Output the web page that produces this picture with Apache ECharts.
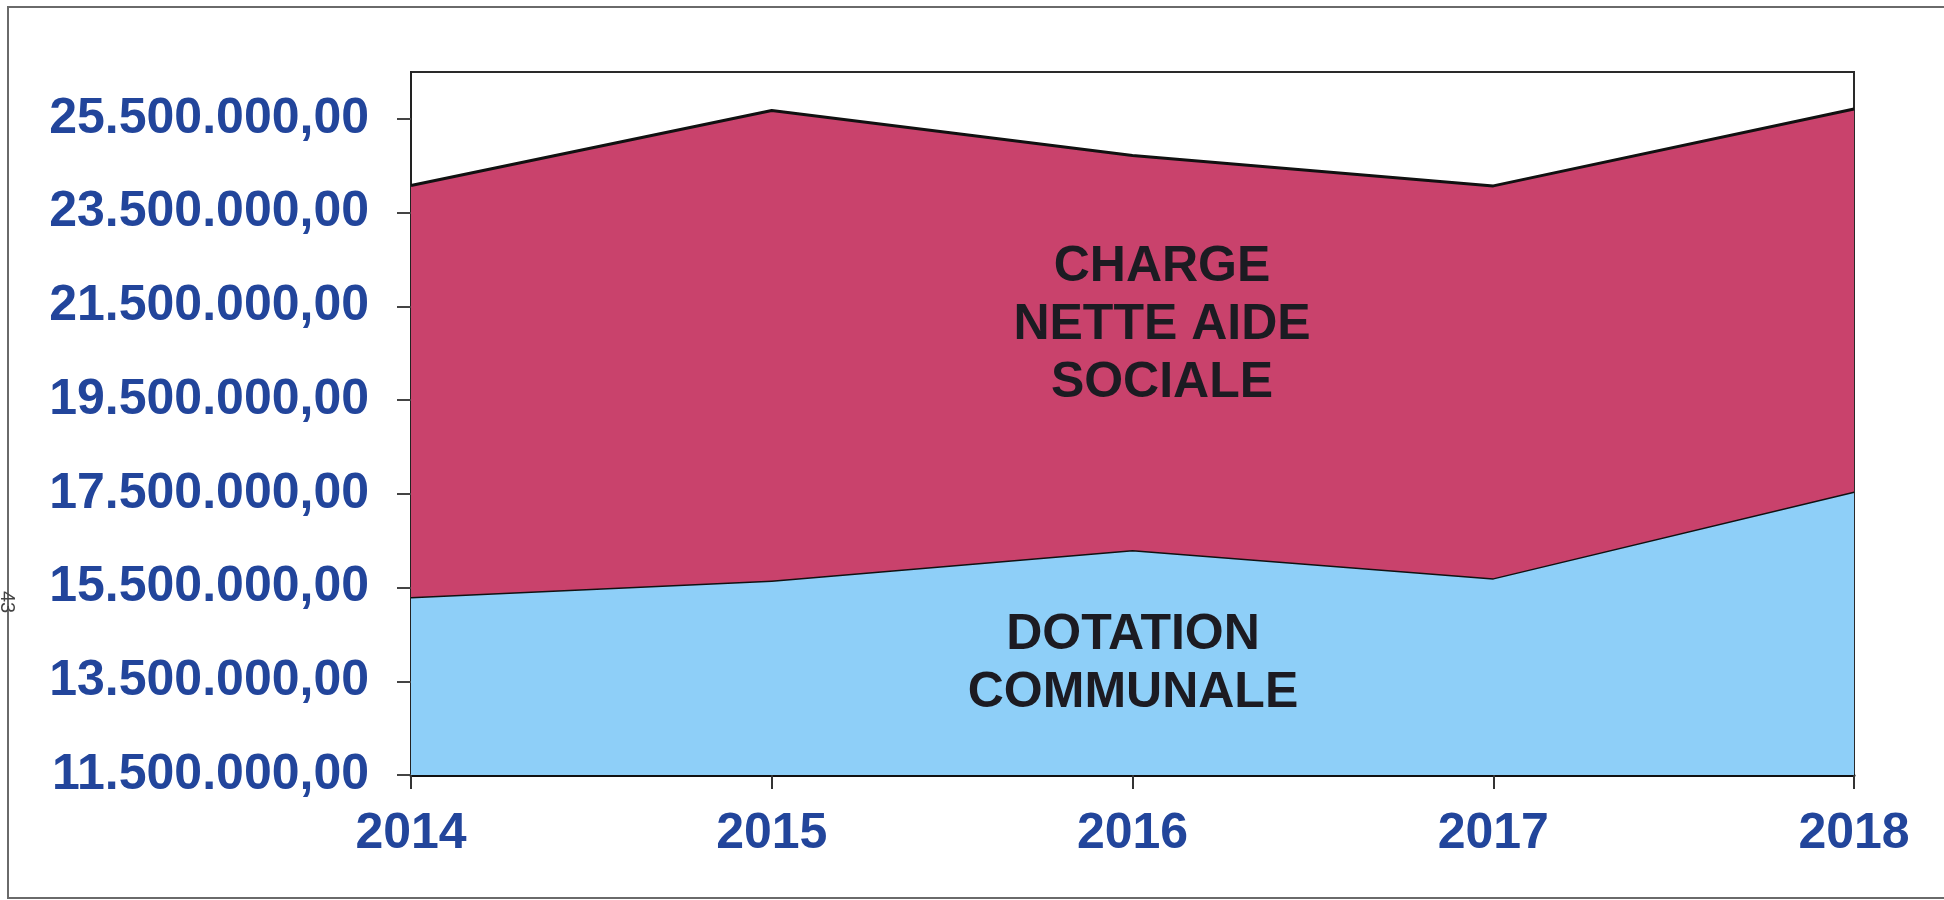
<!DOCTYPE html>
<html>
<head>
<meta charset="utf-8">
<title>Dotation communale / Charge nette aide sociale</title>
<script src="https://cdn.jsdelivr.net/npm/echarts@6/dist/echarts.min.js"></script>
<style>
  html, body { margin: 0; padding: 0; background: #fff; }
  #main { width: 1944px; height: 900px; }
</style>
</head>
<body>
<div id="main"></div>
<script>
// years on the x axis
const years = ['2014', '2015', '2016', '2017', '2018'];
// lower band: dotation communale (EUR)
const dotation = [15300000, 15650000, 16300000, 15700000, 17550000];
// upper band stacked on top: charge nette aide sociale (total - dotation)
const chargeNette = [8780000, 10030000, 8420000, 8370000, 8160000];
// y tick values shown on the axis
const yTicks = [11500000, 13500000, 15500000, 17500000, 19500000, 21500000, 23500000, 25500000];

function euro (v) {
  // 25500000 -> "25.500.000,00"
  const s = Math.round(v).toString().replace(/\B(?=(\d{3})+(?!\d))/g, '.');
  return s + ',00';
}

const blueText = '#22459b';
const font = "'Liberation Sans', Arial, sans-serif";

const chart = echarts.init(document.getElementById('main'));
chart.setOption({
  animation: false,
  grid: {
    left: 411,
    right: 90,
    top: 72,
    bottom: 125,
    show: true,
    borderColor: '#2a2a2a',
    borderWidth: 2,
    backgroundColor: 'transparent'
  },
  xAxis: {
    type: 'category',
    data: years,
    boundaryGap: false,
    axisLine: { lineStyle: { color: '#111', width: 3 } },
    axisTick: { show: true, length: 14, lineStyle: { color: '#333', width: 2 } },
    axisLabel: {
      color: blueText,
      fontSize: 50,
      fontWeight: 'bold',
      fontFamily: font,
      margin: 34
    },
    splitLine: { show: false }
  },
  yAxis: {
    type: 'value',
    min: 11500000,
    max: 26500000,
    interval: 1000000,
    axisLine: { show: true, lineStyle: { color: '#222', width: 2 } },
    axisTick: {
      show: true,
      length: 14,
      lineStyle: { color: '#444', width: 2 },
      customValues: yTicks
    },
    axisLabel: {
      color: blueText,
      fontSize: 50,
      fontWeight: 'bold',
      fontFamily: font,
      margin: 42,
      customValues: yTicks,
      formatter: function (v) { return yTicks.indexOf(v) >= 0 ? euro(v) : ''; }
    },
    splitLine: { show: false }
  },
  series: [
    {
      name: 'DOTATION COMMUNALE',
      type: 'line',
      stack: 'total',
      data: dotation,
      showSymbol: false,
      lineStyle: { color: '#111', width: 3 },
      areaStyle: { color: '#8ecff8', opacity: 1 },
      z: 2
    },
    {
      name: 'CHARGE NETTE AIDE SOCIALE',
      type: 'line',
      stack: 'total',
      data: chargeNette,
      showSymbol: false,
      lineStyle: { color: '#111', width: 3 },
      areaStyle: { color: '#c9426c', opacity: 1 },
      z: 3
    }
  ],
  graphic: [
    {
      type: 'rect',
      shape: { x: 8, y: 7, width: 1950, height: 891 },
      style: { fill: 'none', stroke: '#6a6a6a', lineWidth: 2 },
      silent: true,
      z: 0
    },
    {
      type: 'text',
      x: 1162,
      y: 325,
      z: 10,
      style: {
        text: 'CHARGE\nNETTE AIDE\nSOCIALE',
        align: 'center',
        verticalAlign: 'middle',
        fill: '#1c1b22',
        font: 'bold 50px ' + font,
        lineHeight: 58
      }
    },
    {
      type: 'text',
      x: 1133,
      y: 664,
      z: 10,
      style: {
        text: 'DOTATION\nCOMMUNALE',
        align: 'center',
        verticalAlign: 'middle',
        fill: '#1c1b22',
        font: 'bold 50px ' + font,
        lineHeight: 58
      }
    },
    {
      type: 'text',
      x: 7,
      y: 602,
      rotation: -Math.PI / 2,
      z: 10,
      style: {
        text: '43',
        align: 'center',
        verticalAlign: 'middle',
        fill: '#444',
        font: '20px ' + font
      }
    }
  ]
});
</script>
</body>
</html>
